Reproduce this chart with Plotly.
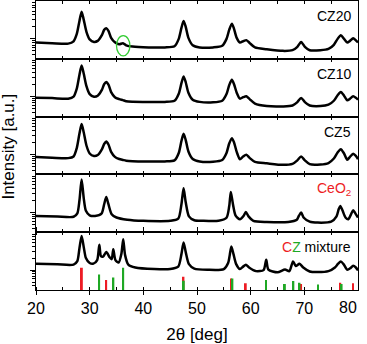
import plotly.graph_objects as go

# ---------------- data ----------------
two_theta_cz = [20, 23, 26, 27, 27.6, 28.1, 28.5, 28.9, 29.4, 30,
                30.8, 31.5, 32.3, 32.7, 33.1, 33.5, 34, 34.7, 35.5, 36.2,
                36.8, 38, 41, 44, 45.8, 46.6, 47.1, 47.5, 47.9, 48.4,
                49.2, 50.5, 53, 54.7, 55.5, 56, 56.5, 56.9, 57.4, 58,
                58.6, 59.2, 59.8, 60.8, 63, 66, 67.8, 68.7, 69.4, 70.1,
                71, 73, 74.5, 75.5, 76.2, 76.8, 77.4, 78, 78.5, 79.1,
                79.6, 80]
cz20 = [0.81, 0.78, 0.76, 0.87, 1.33, 2.82, 4.82, 2.99, 1.50, 0.97,
        0.84, 0.89, 1.26, 1.68, 1.85, 1.59, 1.06, 0.82, 0.73, 0.78,
        0.69, 0.64, 0.61, 0.61, 0.65, 1.00, 1.88, 2.82, 2.00, 1.06,
        0.69, 0.61, 0.61, 0.67, 1.00, 1.68, 2.41, 1.78, 1.06, 0.81,
        0.87, 0.93, 0.79, 0.61, 0.55, 0.50, 0.52, 0.63, 0.84, 0.63,
        0.52, 0.52, 0.56, 0.71, 1.00, 1.24, 1.00, 0.81, 0.89, 1.04,
        0.92, 0.81]
cz10 = [0.94, 0.92, 0.89, 1.00, 1.59, 3.55, 6.06, 3.76, 1.83, 1.16,
        1.00, 1.06, 1.50, 2.05, 2.33, 2.00, 1.30, 0.97, 0.87, 0.82,
        0.77, 0.75, 0.74, 0.74, 0.79, 1.19, 2.18, 3.22, 2.30, 1.26,
        0.84, 0.74, 0.72, 0.79, 1.16, 1.94, 2.66, 2.05, 1.26, 0.89,
        0.97, 1.02, 0.87, 0.67, 0.58, 0.57, 0.60, 0.73, 0.93, 0.73,
        0.60, 0.58, 0.63, 0.79, 1.09, 1.31, 1.06, 0.81, 0.89, 1.02,
        0.94, 0.84]
cz5 = [0.86, 0.83, 0.81, 0.89, 1.45, 3.35, 5.85, 3.55, 1.68, 1.06,
       0.92, 0.97, 1.37, 1.83, 2.11, 1.78, 1.16, 0.87, 0.77, 0.73,
       0.70, 0.68, 0.67, 0.67, 0.71, 1.09, 2.18, 3.29, 2.30, 1.19,
       0.77, 0.67, 0.66, 0.73, 1.09, 1.88, 2.56, 2.00, 1.16, 0.76,
       0.89, 0.98, 0.82, 0.65, 0.60, 0.55, 0.58, 0.71, 0.89, 0.71,
       0.57, 0.56, 0.61, 0.79, 1.12, 1.36, 1.06, 0.74, 0.87, 1.04,
       0.92, 0.76]

two_theta_ceo2 = [20, 24, 27, 27.7, 28.1, 28.5, 28.9, 29.3, 30, 31,
                  32.2, 32.7, 33.1, 33.5, 34.1, 35, 37, 40, 45, 46.5,
                  47.1, 47.5, 47.9, 48.5, 49.5, 51, 54, 55.5, 56, 56.3,
                  56.7, 57.2, 58, 58.7, 59.1, 59.6, 60.5, 63, 67, 68.6,
                  69.0, 69.4, 69.9, 71, 72.5, 75, 76.0, 76.4, 76.7, 77.1,
                  77.7, 78.2, 78.7, 79.1, 79.5, 80]
ceo2 = [0.81, 0.78, 0.77, 0.94, 2.00, 6.68, 2.24, 1.09, 0.84, 0.81,
        0.92, 1.59, 2.41, 1.59, 0.89, 0.74, 0.65, 0.61, 0.61, 0.69,
        1.59, 3.98, 1.78, 0.79, 0.63, 0.61, 0.61, 0.73, 1.41, 3.22,
        1.59, 0.82, 0.67, 0.82, 1.02, 0.79, 0.61, 0.57, 0.57, 0.65,
        0.82, 0.98, 0.73, 0.58, 0.55, 0.58, 0.79, 1.19, 1.44, 1.12,
        0.73, 0.67, 0.89, 1.12, 0.94, 0.74]

two_theta_mix = [20, 24, 27, 27.7, 28.1, 28.5, 28.9, 29.3, 30, 30.7,
                 31.4, 31.8, 32.1, 32.5, 33.1, 33.7, 34.1, 34.4, 34.8, 35.4,
                 35.9, 36.25, 36.6, 37.2, 38.5, 42, 45, 46.5, 47.1, 47.5,
                 47.9, 48.5, 49.5, 52, 55, 55.8, 56.1, 56.4, 56.8, 57.3,
                 58, 58.6, 59.1, 59.7, 61, 62.4, 62.9, 63.3, 65, 66.4,
                 67.2, 67.9, 68.4, 69.1, 69.8, 71, 72.5, 74.5, 75.7, 76.3,
                 76.8, 77.3, 78, 78.6, 79.1, 79.6, 80]
mixture = [1.44, 1.39, 1.37, 1.68, 3.55, 7.20, 3.76, 2.00, 1.50, 1.45,
           1.78, 4.29, 2.24, 2.18, 2.82, 2.11, 1.88, 3.35, 1.78, 1.54,
           2.51, 5.96, 2.37, 1.37, 1.16, 1.06, 1.06, 1.22, 2.51, 4.93,
           2.82, 1.41, 1.09, 1.02, 1.06, 1.50, 2.37, 3.91, 2.51, 1.41,
           1.06, 1.22, 1.36, 1.16, 0.94, 1.00, 1.81, 1.03, 0.88, 1.03,
           0.94, 1.65, 1.26, 1.44, 1.16, 0.92, 0.89, 0.94, 1.16, 1.45,
           1.65, 1.41, 1.02, 1.12, 1.28, 1.16, 0.98]

ceo2_ref_pos = [28.55, 33.08, 47.48, 56.34, 59.09, 69.40, 76.70, 79.07]
ceo2_ref_int = [100, 45, 60, 52, 30, 27, 33, 30]
zno_ref_pos = [31.77, 34.42, 36.25, 47.54, 56.60, 62.86, 66.38, 67.96, 69.10, 72.56, 76.95]
zno_ref_int = [70, 56, 100, 42, 52, 45, 27, 40, 33, 25, 27]

panel_names = ["CZ20", "CZ10", "CZ5", "CeO<sub>2</sub>",
               '<span style="color:#ed1c24">C</span><span style="color:#1fa824">Z</span> mixture']
panel_colors = ["black", "black", "black", "#ed1c24", "black"]
x_tick_vals = [20, 30, 40, 50, 60, 70, 80]

RED = "#ed1c24"
GREEN = "#1fa824"
FONT = "Liberation Sans, Arial, sans-serif"

series = [(two_theta_cz, cz20), (two_theta_cz, cz10), (two_theta_cz, cz5),
          (two_theta_ceo2, ceo2), (two_theta_mix, mixture)]


def ax_id(letter, i):
    return letter if i == 1 else f"{letter}{i}"


fig = go.Figure()
n = len(series)
for i, (xs, ys) in enumerate(series, start=1):
    fig.add_trace(go.Scatter(x=xs, y=ys, mode="lines",
                             line=dict(color="black", width=2.5, shape="spline", smoothing=0.7),
                             xaxis=ax_id("x", i), yaxis=ax_id("y", i), showlegend=False))

fig.add_trace(go.Bar(x=ceo2_ref_pos, y=ceo2_ref_int, width=0.35, marker=dict(color=RED, line=dict(width=0)),
                     xaxis="x5", yaxis="y6", showlegend=False))
fig.add_trace(go.Bar(x=zno_ref_pos, y=zno_ref_int, width=0.35, marker=dict(color=GREEN, line=dict(width=0)),
                     xaxis="x5", yaxis="y6", showlegend=False))

layout = dict(width=367, height=344, margin=dict(l=36, r=9, t=1, b=54),
              paper_bgcolor="white", plot_bgcolor="white", barmode="overlay",
              font=dict(family=FONT, color="black", size=16), showlegend=False)

for i in range(1, n + 1):
    k = n - i  # row from bottom
    dom = [k / n, (k + 1) / n]
    xa = dict(range=[20, 80], showline=True, linecolor="black", linewidth=1, mirror="ticks",
              ticks="inside", ticklen=3, tickcolor="black", dtick=5, tick0=20,
              showticklabels=False, showgrid=False, zeroline=False, anchor=ax_id("y", i))
    if i == n:
        xa.update(ticks="outside", ticklen=4, tickvals=x_tick_vals[:-1],
                  showticklabels=True, tickfont=dict(size=16, family=FONT),
                  minor=dict(ticks="inside", ticklen=3, dtick=5, tick0=20, tickcolor="black"),
                  title=dict(text="2θ [deg]", font=dict(size=17, family=FONT), standoff=14))
    ya = dict(type="log", range=[-0.5, 0.95], domain=dom, anchor=ax_id("x", i),
              showticklabels=False, ticks="outside", ticklen=5, tickcolor="black", dtick=1,
              minor=dict(ticks="outside", ticklen=3, dtick="D1", tickcolor="black"),
              showline=True, linecolor="black", linewidth=1, mirror=True,
              showgrid=False, zeroline=False)
    layout["xaxis" if i == 1 else f"xaxis{i}"] = xa
    layout["yaxis" if i == 1 else f"yaxis{i}"] = ya

layout["yaxis6"] = dict(overlaying="y5", range=[0, 260], visible=False, anchor="x5")

annotations = []
for i, (name, col) in enumerate(zip(panel_names, panel_colors), start=1):
    annotations.append(dict(text=name, xref=f"{ax_id('x', i)} domain", yref=f"{ax_id('y', i)} domain",
                            x=0.985, y=0.74, xanchor="right", yanchor="middle",
                            showarrow=False, font=dict(size=14, color=col, family=FONT)))
annotations.append(dict(text="Intensity [a.u.]", xref="paper", yref="paper",
                        x=-0.085, y=0.495, textangle=-90, xanchor="center", yanchor="middle",
                        showarrow=False, font=dict(size=17, family=FONT)))
# last tick label, kept inside the picture as in the reference
annotations.append(dict(text=str(x_tick_vals[-1]), xref="x5", yref="paper", x=x_tick_vals[-1], y=0,
                        xanchor="right", yanchor="top", yshift=-7, xshift=1, showarrow=False,
                        font=dict(size=16, family=FONT)))
layout["annotations"] = annotations

layout["shapes"] = [dict(type="circle", xref="x", yref="y domain",
                         x0=35.0, x1=37.5, y0=0.05, y1=0.40,
                         line=dict(color="#33cc33", width=1.3))]

fig.update_layout(**layout)
fig.write_html("out.html", config={"displayModeBar": False},
               post_script="document.body.style.margin='0';")
